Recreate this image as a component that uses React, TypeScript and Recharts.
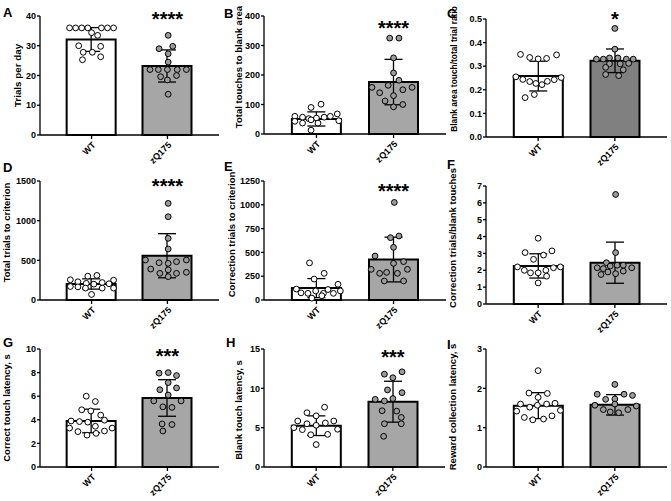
import React from 'react';
import { ComposedChart, Bar, Cell, ErrorBar, Scatter, XAxis, YAxis, ReferenceDot } from 'recharts';

const groups = ['WT', 'zQ175'];

// A: trials per day
const trialsMean = [32.1, 23.2];
const trialsSd = [4.0, 5.4];
const trialsWT = [36, 36, 36, 36, 36, 36, 36, 34.4, 33.5, 30, 29.8, 27.8, 27.8, 26.3, 25.3];
const trialsWTx = [-0.29, -0.21, -0.13, -0.05, 0.13, 0.21, 0.29, 0.0, 0.08, -0.17, 0.12, -0.11, 0.01, 0.12, -0.12];
const trialsZQ = [33.5, 29.8, 29.0, 27.3, 24.5, 22, 22, 22, 22, 22, 20, 19.6, 18.5, 13.7];
const trialsZQx = [0.01, 0.07, -0.11, 0.01, 0.01, -0.23, -0.12, 0.0, 0.13, 0.25, 0.12, -0.09, 0.0, 0.01];

// B: total touches to blank area
const blankMean = [51, 176];
const blankSd = [24, 77];
const blankWT = [90, 101, 60, 57, 52, 54, 57, 60, 68, 43, 37, 48, 37, 45, 13];
const blankWTx = [-0.07, 0.06, -0.28, -0.18, -0.1, 0.0, 0.1, 0.18, 0.27, -0.28, -0.18, -0.07, 0.02, 0.29, -0.07];
const blankZQ = [325, 325, 258, 207, 182, 158, 165, 150, 158, 140, 130, 112, 100, 92];
const blankZQx = [-0.05, 0.07, 0, 0, 0.07, -0.28, -0.07, 0.12, 0.24, -0.18, 0, -0.11, 0.12, 0];

// C: blank area touch / total trial ratio
const ratioMean = [0.258, 0.323];
const ratioSd = [0.063, 0.05];
const ratioWT = [0.35, 0.337, 0.331, 0.333, 0.348, 0.255, 0.244, 0.235, 0.227, 0.222, 0.236, 0.243, 0.252, 0.167, 0.18];
const ratioWTx = [-0.23, -0.11, 0, 0.11, 0.24, -0.29, -0.2, -0.11, -0.03, 0.05, 0.12, 0.21, 0.3, -0.17, -0.05];
const ratioZQ = [0.46, 0.372, 0.33, 0.33, 0.335, 0.335, 0.33, 0.33, 0.31, 0.31, 0.312, 0.295, 0.285, 0.265, 0.26];
const ratioZQx = [0, 0, -0.24, -0.15, -0.07, 0.04, 0.15, 0.24, -0.07, 0.07, 0.18, -0.12, 0.11, -0.12, 0.05];

// D: total trials to criterion
const critMean = [202, 558];
const critSd = [65, 278];
const critWT = [255, 300, 310, 250, 230, 170, 165, 210, 200, 220, 205, 150, 150, 150, 70];
const critWTx = [-0.28, -0.05, 0.07, 0.29, -0.18, -0.28, -0.18, -0.07, 0.03, 0.14, 0.23, -0.08, 0.14, 0.29, 0];
const critZQ = [1218, 1050, 777, 643, 504, 470, 462, 483, 504, 390, 336, 294, 336, 349, 380];
const critZQx = [0.01, 0.01, 0.01, 0.01, -0.29, -0.11, 0.01, 0.12, 0.25, -0.22, -0.1, 0.01, 0.12, 0.25, 0.01];

// E: correction trials to criterion
const corrMean = [125, 425];
const corrSd = [100, 235];
const corrWT = [390, 280, 220, 165, 115, 75, 70, 95, 70, 110, 70, 95, 20, 45];
const corrWTx = [-0.09, 0.1, -0.03, 0.28, -0.26, -0.2, -0.11, -0.01, 0.09, 0.15, 0.22, 0.31, -0.06, 0.07];
const corrZQ = [1025, 655, 672, 553, 462, 385, 403, 322, 290, 280, 322, 280, 200, 200];
const corrZQx = [0.01, -0.04, 0.07, 0, -0.24, 0, 0.13, -0.29, -0.09, 0.05, 0.18, -0.18, -0.12, 0.13];

// F: correction trials / blank touches
const cpbMean = [2.26, 2.45];
const cpbSd = [0.72, 1.22];
const cpbWT = [3.9, 3.05, 2.65, 2.9, 3.15, 2.2, 2.0, 1.85, 1.85, 2.0, 2.15, 2.2, 1.65, 1.25];
const cpbWTx = [0, -0.17, -0.06, 0.07, 0.18, -0.27, -0.18, -0.1, 0, 0.1, 0.2, 0.29, 0.11, 0];
const cpbZQ = [6.5, 3.05, 2.45, 2.15, 2.1, 2.25, 2.3, 2.3, 2.15, 1.9, 1.8, 1.95, 1.75];
const cpbZQx = [0.01, 0.01, -0.11, -0.23, -0.15, -0.06, 0.03, 0.11, 0.22, -0.09, 0.01, 0.11, -0.18];

// G: correct touch latency
const ctlMean = [3.9, 5.85];
const ctlSd = [1.0, 1.55];
const ctlWT = [6.0, 5.55, 4.85, 4.75, 4.4, 3.9, 3.85, 3.8, 3.97, 3.3, 3.0, 2.7, 2.85, 3.05, 3.3, 3.45];
const ctlWTx = [-0.07, 0.05, -0.13, -0.01, 0.12, -0.27, -0.16, -0.05, 0.17, -0.29, -0.18, -0.06, 0.06, 0.17, 0.27, 0.05];
const ctlZQ = [7.95, 8.0, 7.75, 7.15, 6.55, 6.7, 6.1, 5.6, 5.6, 5.1, 5.05, 3.65, 3.6, 3.05];
const ctlZQx = [-0.11, 0.01, 0.12, 0.01, -0.1, 0.12, 0.01, -0.18, 0.18, -0.06, 0.06, -0.07, 0.06, -0.06];

// H: blank touch latency
const btlMean = [5.25, 8.3];
const btlSd = [1.25, 2.6];
const btlWT = [7.6, 6.9, 6.5, 5.85, 5.5, 5.3, 5.6, 5.85, 5.0, 4.75, 4.8, 4.1, 4.15, 2.85];
const btlWTx = [0.11, -0.12, 0, -0.24, -0.12, 0, 0.12, 0.23, -0.29, -0.18, 0.28, -0.07, 0.15, 0];
const btlZQ = [11.8, 12.1, 11.35, 9.8, 9.45, 8.6, 8.4, 8.7, 7.15, 7.1, 6.3, 5.5, 5.5, 3.9];
const btlZQx = [-0.11, 0.12, 0, -0.07, 0.12, -0.23, -0.11, 0, -0.14, 0.05, 0.11, -0.11, 0.11, -0.12];

// I: reward collection latency
const rclMean = [1.56, 1.58];
const rclSd = [0.33, 0.26];
const rclWT = [2.45, 1.88, 1.87, 1.77, 1.6, 1.52, 1.57, 1.6, 1.62, 1.42, 1.44, 1.26, 1.2, 1.22, 1.3];
const rclWTx = [0, -0.12, 0.12, 0, -0.23, -0.11, -0.01, 0.11, 0.22, -0.28, 0.29, -0.18, -0.07, 0.07, 0.18];
const rclZQ = [2.1, 1.85, 1.72, 1.73, 1.85, 1.82, 1.46, 1.4, 1.38, 1.46, 1.55, 1.57, 1.6];
const rclZQx = [0, -0.23, -0.12, 0, 0.12, 0.23, -0.15, -0.06, 0.05, 0.17, 0.28, -0.26, 0];

const FONT = '"Liberation Sans", Arial, sans-serif';
const GREY = '#a6a6a6';
const DARK = '#808080';
const X_DOMAIN = [0.32, 2.68];

const panels = [
  { id: 'A', title: 'Trials per day', ticks: [0, 10, 20, 30, 40], mean: trialsMean, sd: trialsSd, wt: trialsWT, wtX: trialsWTx, zq: trialsZQ, zqX: trialsZQx, stars: '****', starY: 39,
    ox: 0, oy: 0, left: 40, right: 219, top: 16, bottom: 135, h: 172, lx: 18, ldy: 0, lfs: 9.8, bar: GREY },
  { id: 'B', title: 'Total touches to blank area', ticks: [0, 100, 200, 300, 400], mean: blankMean, sd: blankSd, wt: blankWT, wtX: blankWTx, zq: blankZQ, zqX: blankZQx, stars: '****', starY: 359,
    ox: 224, oy: 0, left: 264, right: 446, top: 16, bottom: 134, h: 172, lx: 15, ldy: -8, lfs: 9.5, bar: GREY },
  { id: 'C', title: 'Blank area touch/total trial ratio', ticks: [0, 0.1, 0.2, 0.3, 0.4, 0.5], mean: ratioMean, sd: ratioSd, wt: ratioWT, wtX: ratioWTx, zq: ratioZQ, zqX: ratioZQx, stars: '*', starY: 0.5,
    ox: 447, oy: 0, left: 486, right: 667, top: 19, bottom: 137, h: 172, lx: 7, ldy: -9, lfs: 8.4, bar: DARK, dec: 1 },
  { id: 'D', title: 'Total trials to criterion', ticks: [0, 500, 1000, 1500], mean: critMean, sd: critSd, wt: critWT, wtX: critWTx, zq: critZQ, zqX: critZQx, stars: '****', starY: 1441,
    ox: 0, oy: 165, left: 40, right: 219, top: 181, bottom: 300, h: 172, lx: 7, ldy: -8, lfs: 9.5, bar: GREY },
  { id: 'E', title: 'Correction trials to criterion', ticks: [0, 250, 500, 750, 1000, 1250], mean: corrMean, sd: corrSd, wt: corrWT, wtX: corrWTx, zq: corrZQ, zqX: corrZQx, stars: '****', starY: 1148,
    ox: 224, oy: 165, left: 264, right: 446, top: 181, bottom: 300, h: 172, lx: 8, ldy: -6, lfs: 9.5, bar: GREY },
  { id: 'F', title: 'Correction trials/blank touches', ticks: [0, 1, 2, 3, 4, 5, 6, 7], mean: cpbMean, sd: cpbSd, wt: cpbWT, wtX: cpbWTx, zq: cpbZQ, zqX: cpbZQx, stars: '', starY: 0,
    ox: 447, oy: 165, left: 486, right: 667, top: 186, bottom: 304, h: 172, lx: 6, ldy: -7, lfs: 9.5, bar: GREY },
  { id: 'G', title: 'Correct touch latency, s', ticks: [0, 2, 4, 6, 8, 10], mean: ctlMean, sd: ctlSd, wt: ctlWT, wtX: ctlWTx, zq: ctlZQ, zqX: ctlZQx, stars: '***', starY: 9.43,
    ox: 0, oy: 330, left: 40, right: 219, top: 349, bottom: 467, h: 171, lx: 7, ldy: 0, lfs: 9.5, bar: GREY },
  { id: 'H', title: 'Blank touch latency, s', ticks: [0, 5, 10, 15], mean: btlMean, sd: btlSd, wt: btlWT, wtX: btlWTx, zq: btlZQ, zqX: btlZQx, stars: '***', starY: 14,
    ox: 224, oy: 330, left: 264, right: 445, top: 349, bottom: 467, h: 171, lx: 15, ldy: 2, lfs: 9.5, bar: GREY },
  { id: 'I', title: 'Reward collection latency, s', ticks: [0, 1, 2, 3], mean: rclMean, sd: rclSd, wt: rclWT, wtX: rclWTx, zq: rclZQ, zqX: rclZQx, stars: '', starY: 0,
    ox: 447, oy: 330, left: 486, right: 667, top: 349, bottom: 467, h: 171, lx: 6, ldy: -1, lfs: 9.5, bar: GREY },
];

const letters = [
  { t: 'A', x: 3, y: 17 }, { t: 'B', x: 224, y: 18 }, { t: 'C', x: 447, y: 18 },
  { t: 'D', x: 3, y: 172 }, { t: 'E', x: 224, y: 171 }, { t: 'F', x: 447, y: 169 },
  { t: 'G', x: 3, y: 347 }, { t: 'H', x: 226, y: 347 }, { t: 'I', x: 447, y: 349 },
];

const Dot = (props: any) => {
  const { cx, cy, payload } = props;
  if (cx == null || cy == null) return null;
  return <circle cx={cx} cy={cy} r={2.9} fill={payload.g ? '#9b9b9b' : '#fff'} stroke="#000" strokeWidth={1} />;
};

function Panel({ p }: { p: any }) {
  const w = p.right - p.ox + 4;
  const plotW = p.right - p.left;
  // category padding so band centres line up with the numeric axis used for the dots
  const unit = plotW / (X_DOMAIN[1] - X_DOMAIN[0]);
  const padL = (1 - X_DOMAIN[0]) * unit - unit / 2;
  const padR = (X_DOMAIN[1] - 2) * unit - unit / 2;
  const bars = groups.map((g, i) => ({ name: g, mean: p.mean[i], sd: p.sd[i] }));
  const pts = [
    ...p.wt.map((y: number, i: number) => ({ x: 1 + p.wtX[i], y, g: 0 })),
    ...p.zq.map((y: number, i: number) => ({ x: 2 + p.zqX[i], y, g: 1 })),
  ];
  const tickStyle = { fontSize: 9, fontWeight: 700, fill: '#000', fontFamily: FONT };
  return (
    <div style={{ position: 'absolute', left: p.ox, top: p.oy }}>
      <ComposedChart width={w} height={p.h} data={bars} margin={{ top: p.top - p.oy, right: 4, left: 0, bottom: 0 }}>
        <XAxis
          xAxisId="cat"
          dataKey="name"
          type="category"
          padding={{ left: padL, right: padR }}
          height={p.h - (p.bottom - p.oy)}
          stroke="#000"
          strokeWidth={1.3}
          tickSize={4}
          tickMargin={2}
          interval={0}
          tick={{ ...tickStyle, angle: -45, textAnchor: 'end' }}
        />
        <XAxis xAxisId="num" type="number" dataKey="x" domain={X_DOMAIN} hide height={0} />
        <YAxis
          width={p.left - p.ox}
          domain={[0, p.ticks[p.ticks.length - 1]]}
          ticks={p.ticks}
          tickFormatter={(v: number) => (p.dec ? v.toFixed(p.dec) : String(v))}
          stroke="#000"
          strokeWidth={1.3}
          tickSize={3}
          tickMargin={1}
          tick={tickStyle}
          label={{ value: p.title, angle: -90, position: 'insideLeft', offset: p.lx, dy: p.ldy,
            style: { textAnchor: 'middle', fontSize: p.lfs, fontWeight: 700, fill: '#000', fontFamily: FONT } }}
        />
        <Bar xAxisId="cat" dataKey="mean" barSize={49} stroke="#000" strokeWidth={2} isAnimationActive={false}>
          <Cell fill="#fff" />
          <Cell fill={p.bar} />
          <ErrorBar dataKey="sd" width={9} stroke="#000" strokeWidth={1.3} direction="y" />
        </Bar>
        <Scatter xAxisId="num" data={pts} dataKey="y" shape={Dot} isAnimationActive={false} />
        {p.stars ? (
          <ReferenceDot xAxisId="num" x={2} y={p.starY} r={0} ifOverflow="visible"
            label={{ value: p.stars, position: 'center', fontSize: 20, fontWeight: 700, fill: '#000', fontFamily: FONT }} />
        ) : null}
      </ComposedChart>
    </div>
  );
}

export default function App() {
  return (
    <div style={{ position: 'absolute', left: 0, top: 0, width: 671, height: 501, background: '#fff', fontFamily: FONT }}>
      {panels.map((p) => <Panel key={p.id} p={p} />)}
      <svg width={671} height={501} style={{ position: 'absolute', left: 0, top: 0, pointerEvents: 'none' }}>
        {letters.map((l) => (
          <text key={l.t} x={l.x} y={l.y} fontSize={13} fontWeight={700} fontFamily={FONT} fill="#000">{l.t}</text>
        ))}
      </svg>
    </div>
  );
}
